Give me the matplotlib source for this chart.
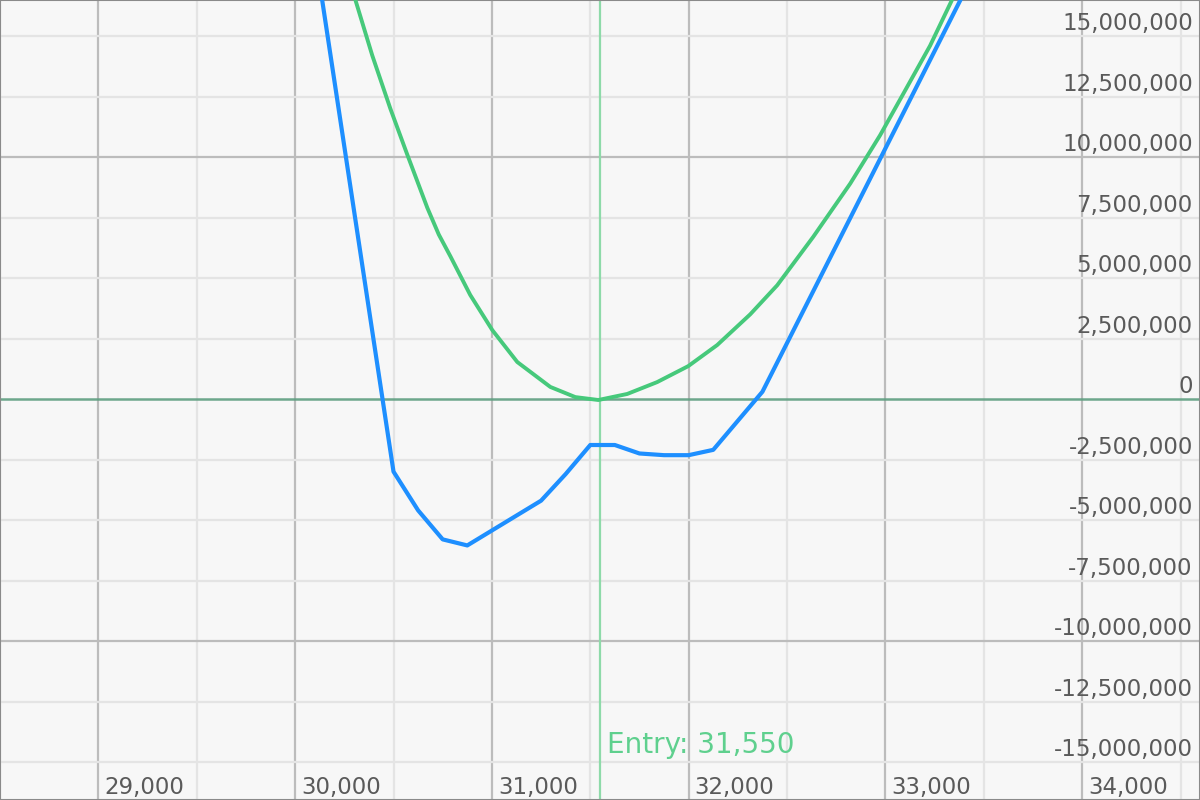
import matplotlib
matplotlib.use("Agg")
import matplotlib.pyplot as plt
import matplotlib.transforms as mtransforms

# P&L at expiry (blue) and today (green)
expiry_x = [30100, 30500, 30625, 30750, 30875, 31250, 31375, 31500, 31625,
            31750, 31875, 32000, 32125, 32375, 33500]
expiry_y = [18.5e6, -3.0e6, -4.6e6, -5.8e6, -6.05e6, -4.2e6, -3.1e6, -1.9e6, -1.9e6,
            -2.25e6, -2.32e6, -2.32e6, -2.1e6, 0.3e6, 18.4e6]

today_x = [30220, 30306, 30392, 30484, 30570, 30672, 30730, 30789, 30890, 31002, 31129,
           31297, 31424, 31541, 31688, 31840, 31998, 32145, 32313, 32450, 32633,
           32821, 32973, 33090, 33227, 33339, 33450]
today_y = [18.8e6, 16.5e6, 14.2e6, 12.0e6, 10.1e6, 7.9e6, 6.8e6, 5.9e6, 4.3e6, 2.85e6, 1.53e6,
           0.5e6, 0.08e6, -0.04e6, 0.21e6, 0.7e6, 1.36e6, 2.23e6, 3.5e6, 4.7e6, 6.7e6,
           8.9e6, 10.9e6, 12.6e6, 14.6e6, 16.5e6, 18.3e6]

entry_price = 31550
x_ticks = [29000, 30000, 31000, 32000, 33000, 34000]
y_ticks = [15e6, 12.5e6, 10e6, 7.5e6, 5e6, 2.5e6, 0, -2.5e6, -5e6, -7.5e6, -10e6, -12.5e6, -15e6]

green = "#46c97b"
blue = "#1e8fff"
label_col = "#5a5a5a"

fig = plt.figure(figsize=(12, 8), dpi=100)
ax = fig.add_axes([0, 0, 1, 1])
ax.set_facecolor("#f7f7f7")
ax.set_xlim(28502, 34599)
ax.set_ylim(-16.57e6, 16.49e6)

# grid: dark every 1000 / 10M, light in between
ax.set_xticks(x_ticks)
ax.set_xticks([v + 500 for v in [28000] + x_ticks], minor=True)
ax.set_yticks([-10e6, 10e6])
ax.set_yticks([v for v in y_ticks if v not in (-10e6, 0, 10e6)], minor=True)
ax.grid(which="major", color="#bcbcbc", lw=1.6)
ax.grid(which="minor", color="#e4e4e4", lw=1.6)
ax.tick_params(which="both", length=0, labelbottom=False, labelleft=False)
ax.set_axisbelow(True)
for s in ax.spines.values():
    s.set_color("#8a8a8a")
    s.set_linewidth(1.5)

ax.axhline(0, color="#5e9e80", lw=1.8, alpha=0.9, zorder=2)
ax.axvline(entry_price, color="#8edaa9", lw=1.6, zorder=2)

ax.plot(today_x, today_y, color=green, lw=2.8, zorder=3)
ax.plot(expiry_x, expiry_y, color=blue, lw=3.0, zorder=4)

# y labels on the right, sitting above their gridlines
ytrans = mtransforms.blended_transform_factory(ax.transAxes, ax.transData)
for v in y_ticks:
    ax.annotate(f"{v:,.0f}", xy=(0.994, v), xycoords=ytrans,
                xytext=(0, 6), textcoords="offset pixels",
                ha="right", va="baseline", fontsize=16.5, color=label_col)

# x labels at the bottom, just right of their gridlines
xtrans = mtransforms.blended_transform_factory(ax.transData, ax.transAxes)
for v in x_ticks:
    ax.annotate(f"{v:,}", xy=(v, 0), xycoords=xtrans,
                xytext=(6, 6), textcoords="offset pixels",
                ha="left", va="baseline", fontsize=16.5, color=label_col)

ax.annotate(f"Entry: {entry_price:,}", xy=(entry_price, 0), xycoords=xtrans,
            xytext=(7, 47), textcoords="offset pixels",
            ha="left", va="baseline", fontsize=20, color="#5fd08e")

fig.savefig("out.png", dpi=100, facecolor="#f7f7f7")
